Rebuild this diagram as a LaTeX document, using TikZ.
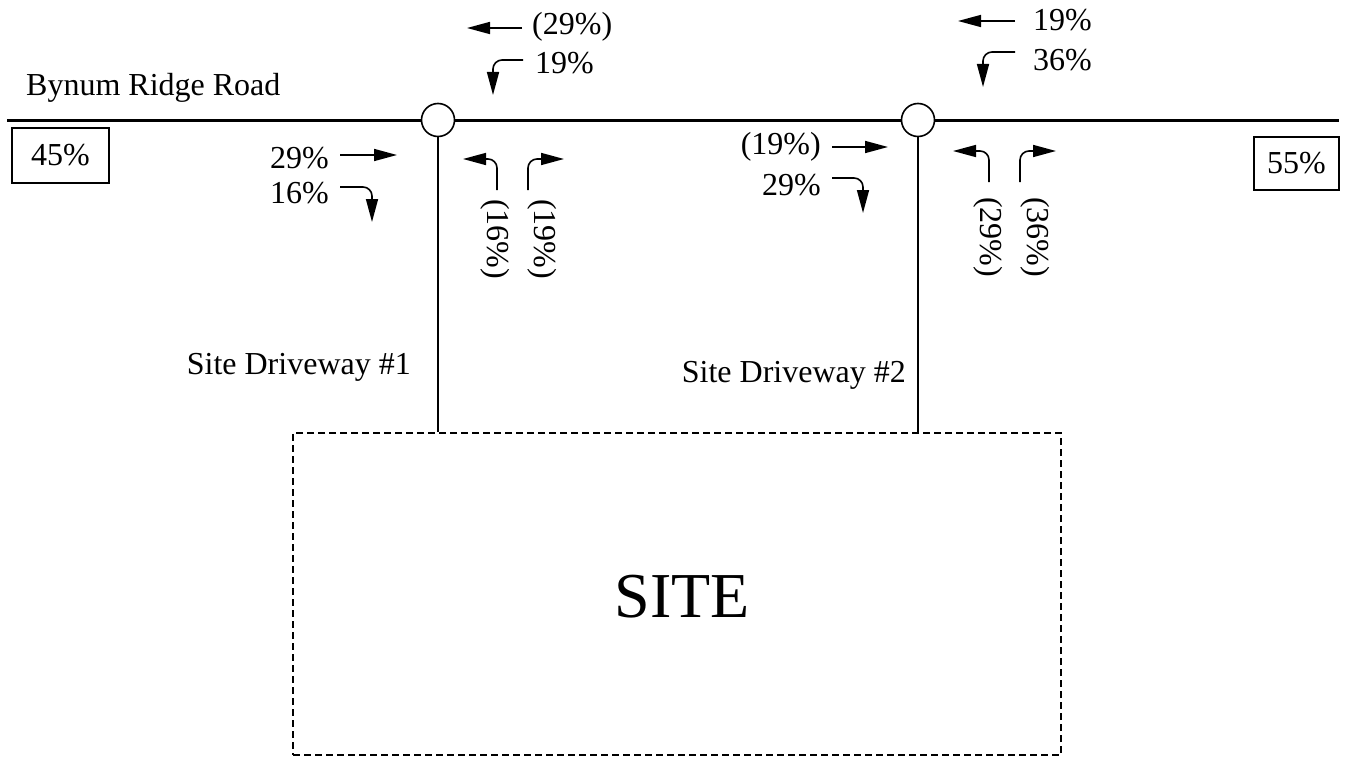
\documentclass[tikz,border=0pt]{standalone}
\usepackage{fontspec}
\setmainfont{Liberation Serif}
\usetikzlibrary{arrows.meta}
\begin{document}
\begin{tikzpicture}[x=1pt,y=-1pt,
  lbl/.style={inner sep=0pt,font=\fontsize{32}{36}\selectfont},
  pctbox/.style={draw,line width=2pt,inner sep=0pt,font=\fontsize{32}{36}\selectfont},
  road/.style={line width=3pt},
  drive/.style={line width=2.6pt},
  mv/.style={line width=1.6pt,rounded corners=9pt,-{Triangle[length=23pt,width=12pt]}},
  sig/.style={circle,draw,fill=white,line width=1.6pt,minimum size=33pt,inner sep=0pt}]
\useasboundingbox (0,0) rectangle (1357,760);
% road
\coordinate (rw) at (7,120);
\coordinate (re) at (1339,120);
\draw[road] (rw) -- (re);
\node[sig] (c1) at (438,120) {};
\node[sig] (c2) at (918,120) {};
% site
\node[draw,dash pattern=on 7pt off 4pt,line width=2.8pt,minimum width=768pt,minimum height=322pt,inner sep=0pt] (site) at (677,594) {};
\node[inner sep=0pt,font=\fontsize{64}{70}\selectfont] (sitelbl) at (682,597) {SITE};
\draw[drive] (c1.south) -- (c1.south |- site.north);
\draw[drive] (c2.south) -- (c2.south |- site.north);
% labels
\node[lbl,anchor=west] (road) at (26,88) {Bynum Ridge Road};
\node[pctbox,minimum width=97pt,minimum height=55pt] (b45) at (60.5,155.5) {45\%};
\node[pctbox,minimum width=85pt,minimum height=53pt] (b55) at (1296.5,163.5) {55\%};
\node[lbl,anchor=east] (d1) at (411,367) {Site Driveway \#1};
\node[lbl,anchor=east] (d2) at (906,375) {Site Driveway \#2};
% intersection 1
\node[lbl,anchor=west] (a1) at (532,27) {(29\%)};
\node[lbl,anchor=west] (a2) at (535,63) {19\%};
\node[lbl,anchor=east] (a3) at (329,158) {29\%};
\node[lbl,anchor=east] (a4) at (329,193) {16\%};
\node[lbl,rotate=-90] (a5) at (495,239) {(16\%)};
\node[lbl,rotate=-90] (a6) at (542,239) {(19\%)};
\draw[mv] (522,28) -- (467,28);
\draw[mv] (523,60) -| (493,95);
\draw[mv] (340,155) -- (397,155);
\draw[mv] (340,187) -| (372,222);
\draw[mv] (497,190) |- (463,159);
\draw[mv] (528,190) |- (564,159);
% intersection 2
\node[lbl,anchor=west] (e1) at (1033,20) {19\%};
\node[lbl,anchor=west] (e2) at (1033,60) {36\%};
\node[lbl,anchor=east] (e3) at (821,147) {(19\%)};
\node[lbl,anchor=east] (e4) at (821,185) {29\%};
\node[lbl,rotate=-90] (e5) at (988,237) {(29\%)};
\node[lbl,rotate=-90] (e6) at (1035,237) {(36\%)};
\draw[mv] (1015,21) -- (958,21);
\draw[mv] (1015,52) -| (983,87);
\draw[mv] (832,147) -- (888,147);
\draw[mv] (832,178) -| (863,213);
\draw[mv] (989,182) |- (953,151);
\draw[mv] (1020,182) |- (1056,151);
\end{tikzpicture}
\end{document}
